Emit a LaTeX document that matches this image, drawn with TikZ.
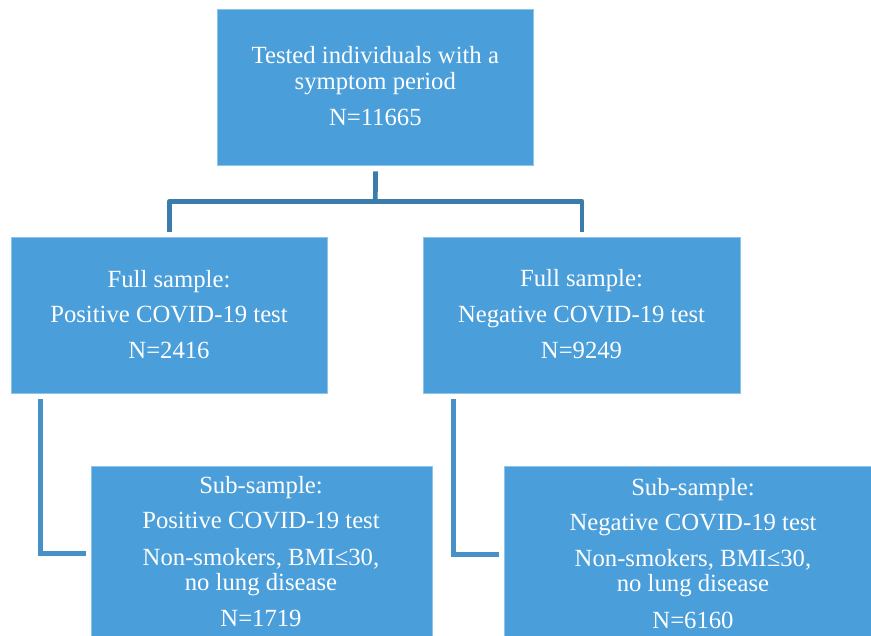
\documentclass[tikz,border=0pt]{standalone}
\usepackage{fontspec}
\setmainfont{Liberation Serif}
\definecolor{boxblue}{HTML}{4A9EDA}
\definecolor{boxedge}{HTML}{8EC3EA}
\definecolor{conntop}{HTML}{3B7CAB}
\definecolor{connside}{HTML}{4791C8}
\begin{document}
\begin{tikzpicture}[x=1pt,y=-1pt,
  box/.style={fill=boxblue, draw=boxedge, line width=0.6pt, rectangle, anchor=north west, inner sep=0},
  txt/.style={text=white, font=\fontsize{24.7}{26}\selectfont, anchor=base, inner sep=0},
  linktop/.style={draw=conntop, line width=4.7pt, line join=round},
  linkside/.style={draw=connside, line width=4.7pt, line join=miter}]
\useasboundingbox (0,0) rectangle (871,636);
\clip (0,0) rectangle (871,636);
% boxes
\node[box, minimum width=316pt, minimum height=155.4pt] (top) at (217.3,9.3) {};
\node[box, minimum width=316pt, minimum height=155.7pt] (fl) at (11,237.3) {};
\node[box, minimum width=316.7pt, minimum height=155.7pt] (fr) at (423.3,237.3) {};
\node[box, minimum width=340.4pt, minimum height=174pt] (sl) at (91.3,466) {};
\node[box, minimum width=378pt, minimum height=176pt] (sr) at (504,466) {};
% texts
\node[txt] (t1) at (375.3,63.3) {Tested individuals with a};
\node[txt] (t2) at (375.3,89.3) {symptom period};
\node[txt] (t3) at (375.3,125.7) {N=11665};
\node[txt] (l1) at (169,287.3) {Full sample:};
\node[txt] (l2) at (169,322.7) {Positive COVID-19 test};
\node[txt] (l3) at (169,359) {N=2416};
\node[txt] (r1) at (581.5,286.7) {Full sample:};
\node[txt] (r2) at (581.5,322.3) {Negative COVID-19 test};
\node[txt] (r3) at (581.5,359) {N=9249};
\node[txt] (sl1) at (261,493.3) {Sub-sample:};
\node[txt] (sl2) at (261,529) {Positive COVID-19 test};
\node[txt] (sl3) at (261,565) {Non-smokers, BMI≤30,};
\node[txt] (sl4) at (261,590) {no lung disease};
\node[txt] (sl5) at (261,626) {N=1719};
\node[txt] (sr1) at (693,495) {Sub-sample:};
\node[txt] (sr2) at (693,530.7) {Negative COVID-19 test};
\node[txt] (sr3) at (693,566.7) {Non-smokers, BMI≤30,};
\node[txt] (sr4) at (693,591.7) {no lung disease};
\node[txt] (sr5) at (693,628.3) {N=6160};
% connectors
\coordinate (j) at (375.3,201.3);
\path[linktop] ([yshift=-6pt]top.south) -- (j);
\path[linktop] ([yshift=5.6pt]fl.north) |- (j) -| ([yshift=5.6pt]fr.north);
\coordinate (lc) at ([shift={(29.8pt,-5.3pt)}]fl.south west);
\coordinate (rc) at ([shift={(29.9pt,-5.3pt)}]fr.south west);
\path[linkside] (lc) |- ([xshift=-5.3pt]sl.west);
\path[linkside] (rc) |- ([xshift=-5.3pt]sr.west);
\end{tikzpicture}
\end{document}
